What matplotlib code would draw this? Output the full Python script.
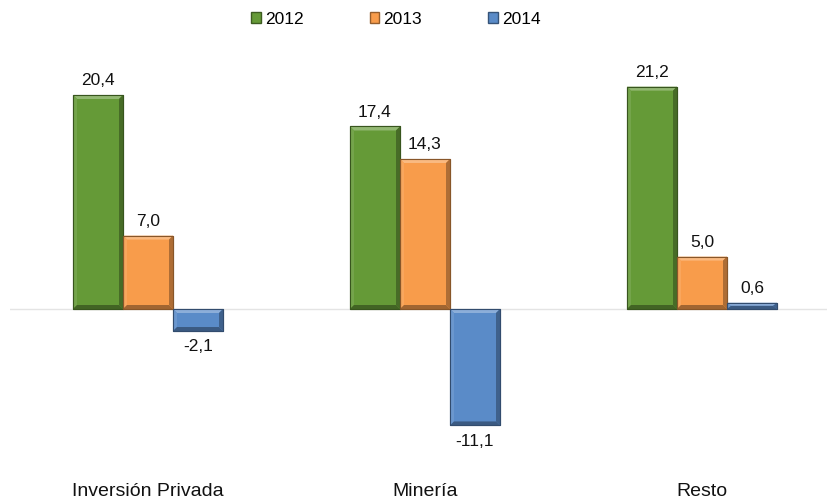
import matplotlib.pyplot as plt
from matplotlib.patches import Polygon, Patch
from matplotlib.colors import to_rgb
import numpy as np

plt.rcParams["font.family"] = ["Liberation Sans", "DejaVu Sans"]

categories = ["Inversión Privada", "Minería", "Resto"]
years = ["2012", "2013", "2014"]
values = {
    "2012": [20.4, 17.4, 21.2],
    "2013": [7.0, 14.3, 5.0],
    "2014": [-2.1, -11.1, 0.6],
}
colors = {"2012": "#659a37", "2013": "#f89c4b", "2014": "#5a8bc8"}


def shade(c, f):
    r = np.array(to_rgb(c))
    if f > 0:
        return tuple(r + (1 - r) * f)
    return tuple(r * (1 + f))


# figure / axes geometry in pixels
W, H = 828, 501
fig = plt.figure(figsize=(W / 100, H / 100), dpi=100)
ax_l, ax_r, ax_t, ax_b = 10, 828, 50, 470
ax = fig.add_axes([ax_l / W, 1 - ax_b / H, (ax_r - ax_l) / W, (ax_b - ax_t) / H])

px_x = 277.0          # pixels per category
px_y = 10.49          # pixels per unit
x0 = (ax_l - 148) / px_x
ax.set_xlim(x0, x0 + (ax_r - ax_l) / px_x)
ax.set_ylim(-(ax_b - 309) / px_y, (309 - ax_t) / px_y)

w = 50 / px_x
bx, by = 4 / px_x, 4 / px_y
xc = np.arange(len(categories))

for i, yr in enumerate(years):
    col = colors[yr]
    for j, v in enumerate(values[yr]):
        l = xc[j] + (i - 1) * w - w / 2
        r = l + w
        lo, hi = min(0, v), max(0, v)
        ax.add_patch(plt.Rectangle((l, lo), w, hi - lo, facecolor=col,
                                   edgecolor=shade(col, -0.45), lw=0.8, zorder=3))
        bb = min(by, (hi - lo) / 2)
        # bevel faces
        ax.add_patch(Polygon([(l, hi), (r, hi), (r - bx, hi - bb), (l + bx, hi - bb)],
                             closed=True, facecolor=shade(col, 0.3), lw=0, zorder=4))
        ax.add_patch(Polygon([(l, lo), (l, hi), (l + bx, hi - bb), (l + bx, lo + bb)],
                             closed=True, facecolor=shade(col, 0.1), lw=0, zorder=4))
        ax.add_patch(Polygon([(r, lo), (r, hi), (r - bx, hi - bb), (r - bx, lo + bb)],
                             closed=True, facecolor=shade(col, -0.3), lw=0, zorder=4))
        ax.add_patch(Polygon([(l, lo), (r, lo), (r - bx, lo + bb), (l + bx, lo + bb)],
                             closed=True, facecolor=shade(col, -0.35), lw=0, zorder=4))
        ax.add_patch(plt.Rectangle((l, lo), w, hi - lo, facecolor="none",
                                   edgecolor=shade(col, -0.45), lw=0.8, zorder=5))
        txt = f"{v:.1f}".replace(".", ",")
        if v >= 0:
            ax.annotate(txt, (l + w / 2, v), xytext=(0, 5), textcoords="offset points",
                        ha="center", va="bottom", fontsize=12.5, color="#111111")
        else:
            ax.annotate(txt, (l + w / 2, v), xytext=(0, -6), textcoords="offset points",
                        ha="center", va="top", fontsize=12.5, color="#111111")

ax.axhline(0, color="#e4e4e4", lw=1, zorder=1)

ax.set_xticks(xc)
ax.set_xticklabels(categories, fontsize=14, color="#111111")
ax.tick_params(axis="x", length=0, pad=9.5)
ax.set_yticks([])
for s in ax.spines.values():
    s.set_visible(False)

handles = [Patch(facecolor=colors[y], edgecolor=shade(colors[y], -0.4), label=y) for y in years]
fig.legend(handles=handles, loc="upper center", bbox_to_anchor=(0.478, 1.008), ncol=3,
           frameon=False, fontsize=12.5, handlelength=0.55, handleheight=0.55,
           handletextpad=0.25, columnspacing=3.8)

plt.savefig("out.png", dpi=100)
